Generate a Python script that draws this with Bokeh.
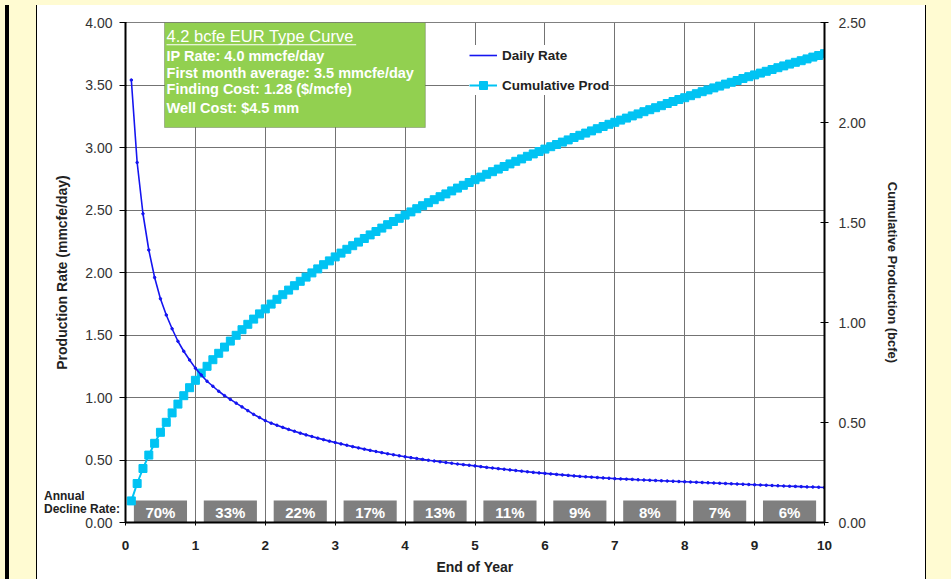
from bokeh.plotting import figure
from bokeh.models import (Range1d, LinearAxis, FixedTicker, Legend, LegendItem, Label,
                          BoxAnnotation, Div, NumeralTickFormatter)
from bokeh.layouts import row, column
from bokeh.embed import file_html
from bokeh.resources import INLINE
from bokeh.core.properties import value

# ---------------- data ----------------
month = list(range(1, 121))
daily_rate = [
    3.54, 2.88, 2.47, 2.18, 1.96, 1.79, 1.66, 1.55, 1.45, 1.37, 1.30, 1.235,
    1.18, 1.13, 1.09, 1.05, 1.015, 0.985, 0.955, 0.925, 0.895, 0.865, 0.84, 0.815,
    0.795, 0.778, 0.761, 0.745, 0.730, 0.715, 0.701, 0.688, 0.675, 0.663, 0.651, 0.640,
    0.629, 0.618, 0.607, 0.597, 0.587, 0.577, 0.568, 0.559, 0.550, 0.542, 0.534, 0.526,
    0.519, 0.512, 0.505, 0.498, 0.492, 0.486, 0.480, 0.474, 0.468, 0.463, 0.458, 0.453,
    0.447, 0.441, 0.436, 0.431, 0.426, 0.421, 0.416, 0.411, 0.406, 0.401, 0.397, 0.393,
    0.389, 0.385, 0.381, 0.377, 0.373, 0.369, 0.366, 0.363, 0.360, 0.357, 0.354, 0.351,
    0.349, 0.347, 0.345, 0.342, 0.340, 0.338, 0.336, 0.334, 0.332, 0.330, 0.328, 0.326,
    0.324, 0.322, 0.320, 0.318, 0.316, 0.314, 0.312, 0.310, 0.308, 0.306, 0.304, 0.302,
    0.300, 0.298, 0.296, 0.294, 0.292, 0.290, 0.289, 0.287, 0.285, 0.284, 0.282, 0.280,
]
cum_prod = [
    0.108, 0.195, 0.270, 0.337, 0.396, 0.451, 0.501, 0.548, 0.592, 0.634, 0.674, 0.711,
    0.747, 0.781, 0.814, 0.846, 0.877, 0.907, 0.936, 0.964, 0.991, 1.017, 1.043, 1.068,
    1.092, 1.116, 1.139, 1.162, 1.184, 1.206, 1.227, 1.248, 1.268, 1.289, 1.308, 1.328,
    1.347, 1.366, 1.384, 1.402, 1.420, 1.438, 1.455, 1.472, 1.489, 1.505, 1.521, 1.537,
    1.553, 1.569, 1.584, 1.599, 1.614, 1.629, 1.643, 1.658, 1.672, 1.686, 1.700, 1.714,
    1.727, 1.741, 1.754, 1.767, 1.780, 1.793, 1.806, 1.818, 1.831, 1.843, 1.855, 1.867,
    1.879, 1.890, 1.902, 1.913, 1.925, 1.936, 1.947, 1.958, 1.969, 1.980, 1.991, 2.001,
    2.012, 2.022, 2.033, 2.043, 2.054, 2.064, 2.074, 2.084, 2.095, 2.105, 2.115, 2.124,
    2.134, 2.144, 2.154, 2.163, 2.173, 2.182, 2.192, 2.201, 2.210, 2.220, 2.229, 2.238,
    2.247, 2.256, 2.265, 2.274, 2.283, 2.292, 2.301, 2.309, 2.318, 2.327, 2.335, 2.344,
]
years = list(range(1, 11))
decline_labels = ["70%", "33%", "22%", "17%", "13%", "11%", "9%", "8%", "7%", "6%"]
x_ticks = list(range(0, 11))
left_ticks = [0.0, 0.5, 1.0, 1.5, 2.0, 2.5, 3.0, 3.5, 4.0]
right_ticks = [0.0, 0.5, 1.0, 1.5, 2.0, 2.5]
box_title = "4.2 bcfe EUR Type Curve"
box_lines = ["IP Rate: 4.0 mmcfe/day",
             "First month average: 3.5 mmcfe/day",
             "Finding Cost:  1.28 ($/mcfe)",
             "Well Cost:  $4.5 mm"]
decline_caption = "Annual<br>Decline Rate:"

# ---------------- figure ----------------
FONT = "Liberation Sans"
YEL = "#fffbd2"
t = [m / 12 for m in month]

p = figure(width=888, height=574, output_backend="svg", toolbar_location=None,
           x_range=Range1d(0, 10), y_range=Range1d(0, 4),
           min_border_left=88, min_border_right=101, min_border_top=17,
           min_border_bottom=57, background_fill_color="white",
           border_fill_color="white", border_fill_alpha=0)
p.outline_line_color = "#808080"
p.outline_line_width = 1
p.extra_y_ranges = {"cum": Range1d(0, 2.5)}

# grid
p.xgrid.ticker = FixedTicker(ticks=x_ticks)
p.ygrid.ticker = FixedTicker(ticks=left_ticks)
p.grid.grid_line_color = "#737373"
p.grid.grid_line_width = 1

# x axis
xa = p.xaxis[0]
xa.ticker = FixedTicker(ticks=x_ticks)
xa.axis_label = "End of Year"
xa.axis_label_text_font = FONT
xa.axis_label_text_font_style = "bold"
xa.axis_label_text_font_size = "14px"
xa.axis_label_text_color = "#222222"
xa.axis_label_standoff = 6
xa.major_label_text_font = FONT
xa.major_label_text_font_style = "bold"
xa.major_label_text_font_size = "13.5px"
xa.major_label_text_color = "#222222"
xa.major_label_standoff = 15
xa.major_tick_in = 2
xa.major_tick_out = 3
xa.minor_tick_line_color = None
xa.axis_line_width = 2
xa.axis_line_color = "black"

# left axis
ya = p.yaxis[0]
ya.ticker = FixedTicker(ticks=left_ticks)
ya.formatter = NumeralTickFormatter(format="0.00")
ya.axis_label = "Production Rate (mmcfe/day)"
ya.axis_label_text_font = FONT
ya.axis_label_text_font_style = "bold"
ya.axis_label_text_font_size = "14px"
ya.axis_label_text_color = "#222222"
ya.axis_label_standoff = 12
ya.major_label_text_font = FONT
ya.major_label_text_font_size = "14px"
ya.major_label_text_color = "#333333"
ya.major_label_standoff = 7
ya.major_tick_in = 1
ya.major_tick_out = 6
ya.minor_tick_line_color = None
ya.axis_line_width = 2
ya.axis_line_color = "black"

# right axis
ra = LinearAxis(y_range_name="cum")
ra.ticker = FixedTicker(ticks=right_ticks)
ra.formatter = NumeralTickFormatter(format="0.00")
ra.axis_label = "Cumulative Production (bcfe)"
ra.axis_label_text_font = FONT
ra.axis_label_text_font_style = "bold"
ra.axis_label_text_font_size = "13px"
ra.axis_label_text_color = "#222222"
ra.axis_label_standoff = 16
ra.major_label_text_font = FONT
ra.major_label_text_font_size = "14px"
ra.major_label_text_color = "#333333"
ra.major_label_standoff = 10
ra.major_tick_in = 4
ra.major_tick_out = 4
ra.minor_tick_line_color = None
ra.axis_line_width = 2
ra.axis_line_color = "black"
p.add_layout(ra, "right")

# decline-rate boxes
box_left = [y - 1 + 0.12 for y in years]
box_right = [y - 1 + 0.88 for y in years]
box_mid = [y - 0.5 for y in years]
p.quad(left=box_left, right=box_right, bottom=0, top=0.176,
       fill_color="#7f7f7f", line_color=None)
p.text(x=box_mid, y=[0.08] * len(years), text=decline_labels,
       text_color="white", text_font=value(FONT), text_font_style="bold",
       text_font_size="15px", text_align="center", text_baseline="middle")

# series
CY = "#00c3f3"
BL = "#1515f0"
lc = p.line(t, cum_prod, y_range_name="cum", line_color=CY, line_width=2)
sc = p.scatter(t, cum_prod, y_range_name="cum", marker="square", size=8,
               fill_color=CY, line_color=CY)
ld = p.line(t, daily_rate, line_color=BL, line_width=1.6)
sd = p.scatter(t, daily_rate, marker="circle", size=2.5, fill_color=BL, line_color=BL)

legend = Legend(items=[LegendItem(label="Daily Rate", renderers=[ld]),
                       LegendItem(label="Cumulative Prod", renderers=[lc, sc])],
                location=(344, 427), orientation="vertical",
                glyph_width=28, glyph_height=20, label_height=20, spacing=10,
                padding=8, margin=0, label_standoff=5,
                label_text_font=FONT, label_text_font_style="bold",
                label_text_font_size="13.5px", label_text_color="#222222",
                border_line_color=None, background_fill_color="white",
                background_fill_alpha=1)
p.add_layout(legend)

# green info box
p.add_layout(BoxAnnotation(left=0.558, right=4.29, bottom=3.16, top=4.0,
                           fill_color="#92d050", fill_alpha=1,
                           line_color="#404040", line_width=1))
p.add_layout(Label(x=0.587, y=3.896, text=box_title, text_font=FONT,
                   text_font_size="16.5px", text_color="white",
                   text_align="left", text_baseline="middle"))
p.add_layout(BoxAnnotation(left=0.587, right=3.30, bottom=3.818, top=3.826,
                           fill_color="white", fill_alpha=1, line_color=None))
line_y = [3.736, 3.60, 3.472, 3.32]
for txt, yy in zip(box_lines, line_y):
    p.add_layout(Label(x=0.587, y=yy, text=txt, text_font=FONT,
                       text_font_size="14.5px", text_font_style="bold",
                       text_color="white", text_align="left",
                       text_baseline="middle"))

# slide decoration + caption outside the plot frame
top_div = Div(text="", width=951, height=5, margin=0,
              styles={"background-color": YEL})
left_div = Div(text="", width=37, height=574, margin=0,
               styles={"background": "linear-gradient(to right, " + YEL + " 0px, " + YEL +
                       " 5px, #000 5px, #000 9px, " + YEL + " 9px, " + YEL +
                       " 36px, #000 36px, #000 37px)"})
right_div = Div(text="", width=26, height=574, margin=0,
                styles={"background-color": YEL,
                        "box-shadow": "inset 1px 0 0 #000000"})
caption = Div(text=decline_caption, width=90, height=28, margin=0,
              styles={"position": "absolute", "left": "44px", "top": "490px",
                      "z-index": "10", "font-family": FONT, "font-weight": "bold",
                      "font-size": "12px", "line-height": "13px", "color": "#222222"})
layout = column(top_div, row(left_div, p, right_div, spacing=0), caption, spacing=0)

open("out.html", "w").write(file_html(layout, INLINE))
